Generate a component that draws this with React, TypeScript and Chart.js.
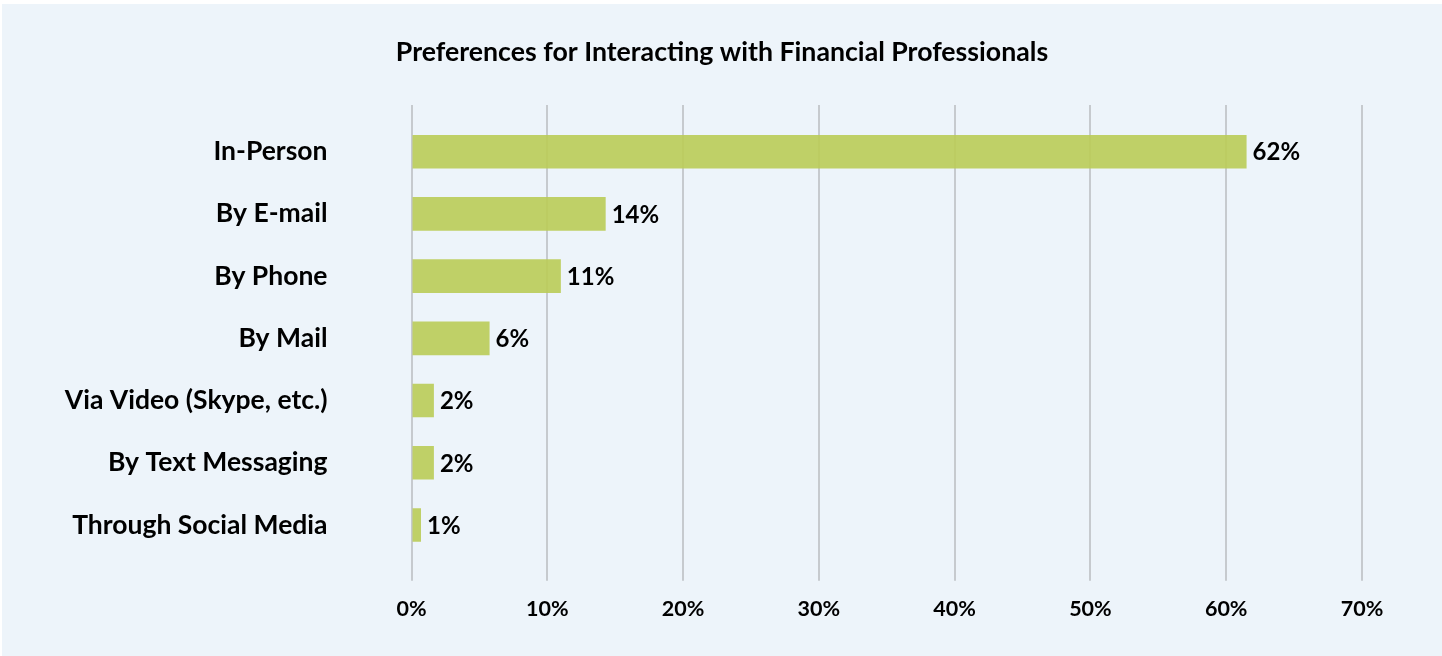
import React, { useEffect, useRef } from 'react';
import { Chart, registerables } from 'chart.js';

Chart.register(...registerables);

const titleText = 'Preferences for Interacting with Financial Professionals';
const categories = [
  'In-Person',
  'By E-mail',
  'By Phone',
  'By Mail',
  'Via Video (Skype, etc.)',
  'By Text Messaging',
  'Through Social Media',
];
const values = [61.5, 14.3, 11.0, 5.75, 1.65, 1.65, 0.7];
const valueLabels = ['62%', '14%', '11%', '6%', '2%', '2%', '1%'];
const axisMin = 0;
const axisMax = 70;
const axisStep = 10;

const FONT = 'Lato';
const GRID = '#C6CACE';

const barLabelPlugin = {
  id: 'barValueLabels',
  afterDatasetsDraw(chart: any) {
    const ctx = chart.ctx;
    const meta = chart.getDatasetMeta(0);
    ctx.save();
    ctx.font = `bold 24px ${FONT}`;
    ctx.fillStyle = '#000000';
    ctx.textAlign = 'left';
    ctx.textBaseline = 'middle';
    meta.data.forEach((bar: any, i: number) => {
      const { x, y } = bar.getProps(['x', 'y'], true);
      ctx.fillText(valueLabels[i], x + 6, y + 1);
    });
    ctx.restore();
  },
};

export default function App() {
  const canvasRef = useRef<HTMLCanvasElement | null>(null);

  useEffect(() => {
    document.body.style.margin = '0';
    const canvas = canvasRef.current;
    if (!canvas) return;
    const chart = new Chart(canvas, {
      type: 'bar',
      data: {
        labels: categories,
        datasets: [
          {
            data: values,
            backgroundColor: 'rgba(186,204,87,0.9)',
            borderWidth: 0,
            barPercentage: 0.54,
            categoryPercentage: 1,
            xAxisID: 'x',
            yAxisID: 'y',
          },
        ],
      },
      options: {
        indexAxis: 'y',
        responsive: false,
        animation: false,
        devicePixelRatio: 1,
        layout: { padding: 0 },
        plugins: {
          legend: { display: false },
          tooltip: { enabled: false },
          title: {
            display: true,
            text: titleText,
            color: '#000000',
            font: { family: FONT, weight: 'bold', size: 26.7, lineHeight: 1.2 },
            padding: { top: 32, bottom: 36.96 },
          },
        },
        scales: {
          x: {
            type: 'linear',
            position: 'bottom',
            min: axisMin,
            max: axisMax,
            ticks: {
              stepSize: axisStep,
              callback: (v: any) => `${v}%`,
              color: '#000000',
              font: { family: FONT, weight: 'bold', size: 21.5 },
              padding: 15,
            },
            grid: {
              color: GRID,
              tickColor: GRID,
              lineWidth: 2,
              drawTicks: true,
              tickLength: 24.6,
            },
            border: { display: false },
            afterFit: (s: any) => {
              s.height = 95.6;
            },
          },
          x2: {
            type: 'linear',
            position: 'top',
            min: axisMin,
            max: axisMax,
            ticks: { display: false, stepSize: axisStep },
            grid: {
              color: GRID,
              tickColor: GRID,
              lineWidth: 2,
              drawOnChartArea: false,
              drawTicks: true,
              tickLength: 15.6,
            },
            border: { display: false },
            afterFit: (s: any) => {
              s.height = 15.6;
            },
          },
          y: {
            type: 'category',
            position: 'left',
            offset: true,
            grid: { display: false, drawTicks: false },
            border: { display: false },
            ticks: {
              color: '#000000',
              font: { family: FONT, weight: 'bold', size: 26.5 },
              padding: 84,
            },
            afterFit: (s: any) => {
              s.width = 409.5;
            },
          },
          y2: {
            type: 'category',
            position: 'right',
            offset: true,
            grid: { display: false, drawTicks: false },
            border: { display: false },
            ticks: { display: false },
            afterFit: (s: any) => {
              s.width = 80;
            },
          },
        },
      },
      plugins: [barLabelPlugin],
    } as any);
    return () => chart.destroy();
  }, []);

  return (
    <div style={{ position: 'relative', width: 1442, height: 656, background: '#ffffff', overflow: 'hidden' }}>
      <canvas
        ref={canvasRef}
        width={1440}
        height={652}
        style={{ position: 'absolute', left: 2, top: 4, width: 1440, height: 652, background: '#EDF4FA' }}
      />
    </div>
  );
}
